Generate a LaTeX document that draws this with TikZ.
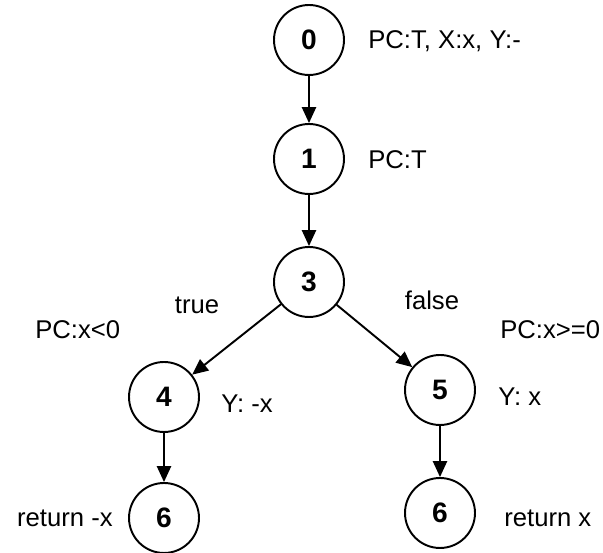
\documentclass[tikz,border=0pt]{standalone}
\usepackage{fontspec}
\setmainfont{Liberation Sans}
\usetikzlibrary{arrows.meta, positioning}

\begin{document}
\begin{tikzpicture}[x=0.02cm, y=-0.02cm, >={Triangle[length=9pt,width=8pt]},
    state/.style={draw, circle, line width=1.1pt, minimum size=1.4cm, inner sep=0pt, font=\fontsize{16}{18}\selectfont\bfseries},
    note/.style={inner sep=0pt, font=\fontsize{14.6}{17}\selectfont},
    edge/.style={->, line width=1.1pt}]
    \useasboundingbox (0,0) rectangle (603,553);

    % States of the execution tree
    \node[state] (s0) at (309,40) {0};
    \node[state] (s1) at (309,159) {1};
    \node[state] (s3) at (309,282) {3};
    \node[state] (s4) at (164,397) {4};
    \node[state] (s5) at (440,390) {5};
    \node[state] (s6l) at (164,518) {6};
    \node[state] (s6r) at (440,513) {6};

    % Annotations beside the states
    \node[note, anchor=west] (n0) at (368,41) {PC:T, X:x, Y:-};
    \node[note, anchor=west] (n1) at (368,160) {PC:T};
    \node[note, anchor=west] (n4) at (35,330) {PC:x<0};
    \node[note, anchor=west] (n5) at (500,330) {PC:x>=0};
    \node[note, anchor=west] (y4) at (221,404) {Y: -x};
    \node[note, anchor=west] (y5) at (498,397) {Y: x};
    \node[note, anchor=east] (r6l) at (113,518) {return -x};
    \node[note, anchor=west] (r6r) at (504,518) {return x};

    % Branch labels
    \node[note] (bt) at (197,305) {true};
    \node[note] (bf) at (432,300) {false};

    % Edges
    \draw[edge] (s0) -- (s1);
    \draw[edge] (s1) -- (s3);
    \draw[edge] (s3) -- (s4);
    \draw[edge] (s3) -- (s5);
    \draw[edge] (s4) -- (s6l);
    \draw[edge] (s5) -- (s6r);
\end{tikzpicture}
\end{document}
